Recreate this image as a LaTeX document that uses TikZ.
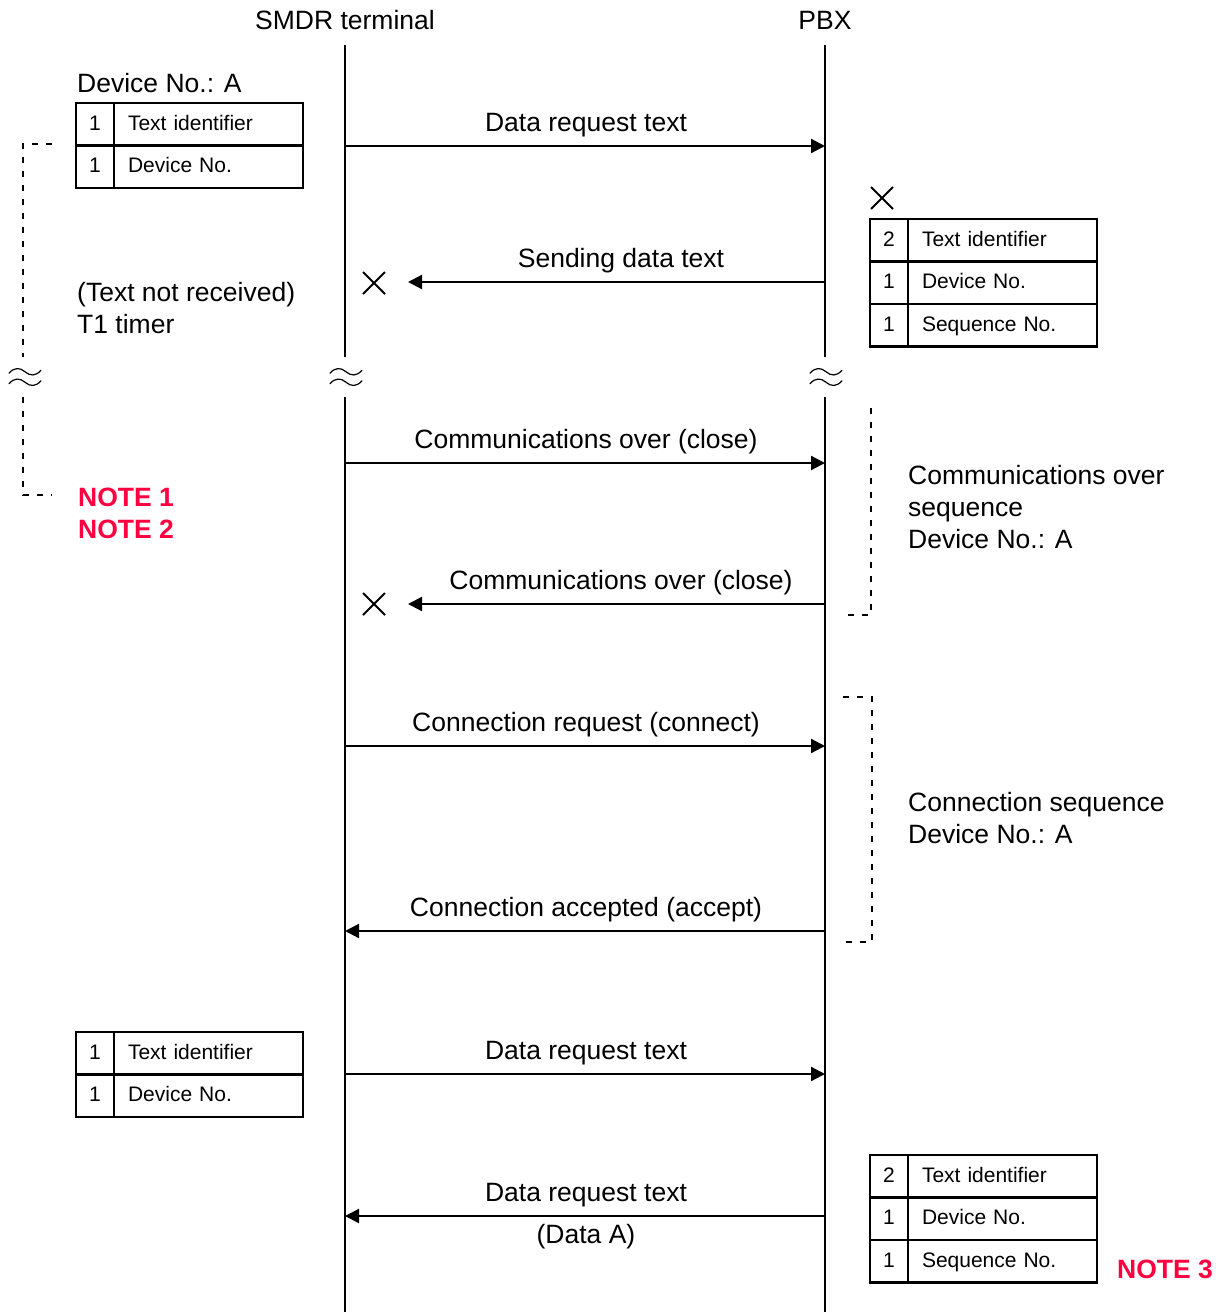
\documentclass[tikz,border=0pt]{standalone}
\usepackage{fontspec}
\setmainfont{Liberation Sans}
\usetikzlibrary{arrows.meta,shapes.misc}
\definecolor{notered}{RGB}{255,0,64}
\newcommand{\mainsize}{\fontsize{26.5}{32}\selectfont}
\newcommand{\cellsize}{\fontsize{21}{25}\selectfont}
% one table row: name, x, y (top), count, field
\newcommand{\fieldrow}[5]{%
  \node[numcell, anchor=north west] (#1n) at (#2,#3) {#4};
  \node[txtcell, anchor=north west] (#1t) at (#1n.north east) {#5};
}
\tikzset{
  lane/.style={line width=2.3pt},
  msg/.style={line width=2.2pt,-{Triangle[length=14pt,width=14pt]}},
  lbl/.style={anchor=base,inner sep=0,font=\mainsize},
  lblw/.style={anchor=base west,inner sep=0,font=\mainsize},
  note/.style={anchor=base west,inner sep=0,font=\mainsize\bfseries,text=notered},
  numcell/.style={draw,line width=2.2pt,inner sep=0,outer sep=0,minimum width=38pt,
    minimum height=42.5pt,text height=16pt,text depth=4pt,align=center,font=\cellsize},
  txtcell/.style={draw,line width=2.2pt,inner xsep=14pt,inner ysep=0,outer sep=0,
    text width=161pt,minimum height=42.5pt,text height=16pt,text depth=4pt,
    align=left,font=\cellsize},
  xmark/.style={cross out,draw,line width=2pt,minimum size=20pt,inner sep=0},
  bracket/.style={line width=1.8pt,dash pattern=on 6pt off 8pt},
  wavebreak/.pic={
    \foreach \dy in {-5.25,5.25}{
      \draw[line width=1.2pt,line cap=round]
        (-16,1.5+\dy) .. controls (-11,-4.5+\dy) and (-5,-4.5+\dy) .. (0,\dy)
        .. controls (5,4.5+\dy) and (11,4.5+\dy) .. (16,-1.5+\dy);
    }
  }
}
\begin{document}
\begin{tikzpicture}[x=1pt,y=-1pt]
\useasboundingbox (0,0) rectangle (1220,1312);

% lifelines
\node[lbl] (tS) at (345,29.5) {SMDR terminal};
\node[lbl] (tP) at (825,29.5) {PBX};
\coordinate (sTop) at (345,45);  \coordinate (sB1) at (345,357);
\coordinate (sB2) at (345,397);  \coordinate (sBot) at (345,1312);
\coordinate (pTop) at (825,45);  \coordinate (pB1) at (825,357);
\coordinate (pB2) at (825,397);  \coordinate (pBot) at (825,1312);
\draw[lane] (sTop) -- (sB1) (sB2) -- (sBot);
\draw[lane] (pTop) -- (pB1) (pB2) -- (pBot);
\pic at (346,377) {wavebreak};
\pic at (826,377) {wavebreak};
\pic at (25,377) {wavebreak};

% message anchor points
\foreach \i/\y in {1/146,2/282,3/463,4/604,5/746,6/931,7/1074,8/1216}{
  \coordinate (s\i) at (345,\y);
  \coordinate (p\i) at (825,\y);
}
\coordinate (r2) at (408,282);
\coordinate (r4) at (408,604);

% messages
\draw[msg] (s1) -- (p1);
\node[lbl] (m1) at (586,131.5) {Data request text};
\draw[msg] (p2) -- (r2);
\node[lbl] (m2) at (621,267) {Sending data text};
\node[xmark] (x2) at (374,283) {};
\draw[msg] (s3) -- (p3);
\node[lbl] (m3) at (586,448.5) {Communications over (close)};
\draw[msg] (p4) -- (r4);
\node[lbl] (m4) at (621,589.5) {Communications over (close)};
\node[xmark] (x4) at (374,604) {};
\draw[msg] (s5) -- (p5);
\node[lbl] (m5) at (586,731.5) {Connection request (connect)};
\draw[msg] (p6) -- (s6);
\node[lbl] (m6) at (586,916.5) {Connection accepted (accept)};
\draw[msg] (s7) -- (p7);
\node[lbl] (m7) at (586,1059.5) {Data request text};
\draw[msg] (p8) -- (s8);
\node[lbl] (m8) at (586,1201.5) {Data request text};
\node[lbl] (m8b) at (586,1243.5) {(Data A)};

% text layouts
\node[lblw] (devA) at (77,92.5) {Device No.: A};
\fieldrow{ta1}{76}{103}{1}{Text identifier}
\fieldrow{ta2}{76}{145.5}{1}{Device No.}

\node[xmark] (xb) at (882,198) {};
\fieldrow{tb1}{870}{219}{2}{Text identifier}
\fieldrow{tb2}{870}{261.5}{1}{Device No.}
\fieldrow{tb3}{870}{304}{1}{Sequence No.}

\fieldrow{tc1}{76}{1032}{1}{Text identifier}
\fieldrow{tc2}{76}{1074.5}{1}{Device No.}

\fieldrow{td1}{870}{1155}{2}{Text identifier}
\fieldrow{td2}{870}{1197.5}{1}{Device No.}
\fieldrow{td3}{870}{1240}{1}{Sequence No.}

% timer bracket and notes
\node[lblw] (tnr1) at (77,301.5) {(Text not received)};
\node[lblw] (tnr2) at (77,333.5) {T1 timer};
\coordinate (lb0) at (52,144); \coordinate (lb1) at (23,144);
\coordinate (lb2) at (23,357); \coordinate (lb3) at (23,397);
\coordinate (lb4) at (23,495); \coordinate (lb5) at (52,495);
\draw[bracket] (lb0) -- (lb1) -- (lb2);
\draw[bracket] (lb3) -- (lb4) -- (lb5);
\node[note] (n1) at (78,506) {NOTE 1};
\node[note] (n2) at (78,538) {NOTE 2};
\node[note] (n3) at (1117,1278) {NOTE 3};

% sequence brackets
\coordinate (rb0) at (871,408); \coordinate (rb1) at (871,615); \coordinate (rb2) at (843,615);
\draw[bracket] (rb0) -- (rb1) -- (rb2);
\node[lblw] (cos1) at (908,484.5) {Communications over};
\node[lblw] (cos2) at (908,516.5) {sequence};
\node[lblw] (cos3) at (908,548.5) {Device No.: A};

\coordinate (cb0) at (843,697); \coordinate (cb1) at (872,697);
\coordinate (cb2) at (872,942); \coordinate (cb3) at (843,942);
\draw[bracket] (cb0) -- (cb1) -- (cb2) -- (cb3);
\node[lblw] (cs1) at (908,811.5) {Connection sequence};
\node[lblw] (cs2) at (908,843.5) {Device No.: A};
\end{tikzpicture}
\end{document}
